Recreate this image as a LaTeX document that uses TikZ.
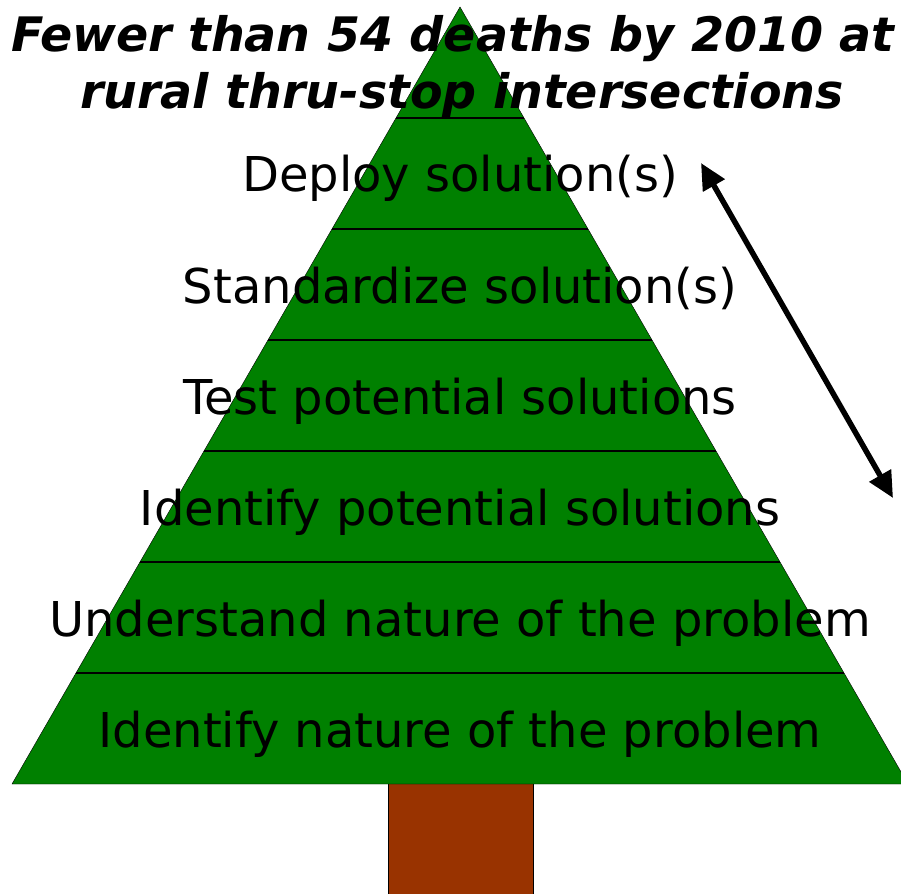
\documentclass[tikz,border=0pt]{standalone}
\usepackage{fontspec}
\setmainfont{DejaVu Sans}
\usepackage{tikz}
\usetikzlibrary{arrows.meta}
\definecolor{treegreen}{HTML}{008000}
\definecolor{trunkbrown}{HTML}{993300}
\tikzstyle{stage} = [font=\fontsize{48}{52}\selectfont, text=black, inner sep=0pt, anchor=base]
\tikzstyle{goal} = [font=\fontsize{47.5}{52}\selectfont\bfseries\itshape, text=black, inner sep=0pt, anchor=base]
\tikzstyle{arrow} = [line width=5.5pt, {Triangle[length=26pt,width=24pt]}-{Triangle[length=26pt,width=24pt]}]

\begin{document}
\begin{tikzpicture}[x=1pt,y=-1pt]
						\useasboundingbox (0,0) rectangle (901,893);
						\clip (0,0) rectangle (901,893);
						\draw [fill=trunkbrown] (388,783) rectangle (533,900);
						\draw [fill=treegreen] (460,7) -- (12,784) -- (908,784) -- cycle;
						\foreach \y in {118,229,340,451,562,673}
							\draw [line width=1.3pt] ({460-(\y-7)*0.5773},\y) -- ({460+(\y-7)*0.5773},\y);
						\node (goal1) [goal] at (453,52) {Fewer than 54 deaths by 2010 at};
						\node (goal2) [goal] at (462,109) {rural thru-stop intersections};
						\node (deploy) [stage] at (460,192) {Deploy solution(s)};
						\node (standard) [stage] at (460,303) {Standardize solution(s)};
						\node (test) [stage] at (460,414) {Test potential solutions};
						\node (identsol) [stage] at (460,525) {Identify potential solutions};
						\node (understand) [stage] at (460,636) {Understand nature of the problem};
						\node (identprob) [stage] at (460,747) {Identify nature of the problem};
						\coordinate (up) at (701,163);
						\coordinate (down) at (893,498);
						\draw [arrow] (up) -- (down);
					\end{tikzpicture}
\end{document}
